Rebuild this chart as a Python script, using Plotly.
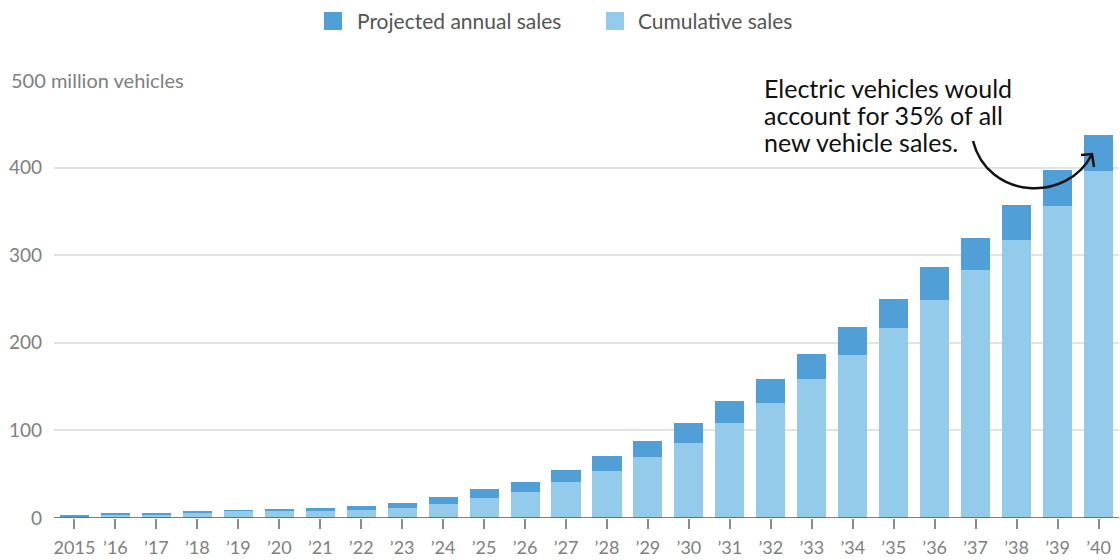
import plotly.graph_objects as go

# ---- data (million vehicles) ----
years = list(range(2015, 2041))
tick_labels = ["2015", "’16", "’17", "’18", "’19", "’20", "’21", "’22", "’23", "’24",
               "’25", "’26", "’27", "’28", "’29", "’30", "’31", "’32", "’33", "’34",
               "’35", "’36", "’37", "’38", "’39", "’40"]
cumulative_sales = [2.0, 3.8, 4.4, 6.0, 8.0, 7.6, 8.0, 9.5, 11.1, 16.3,
                    22.5, 29.3, 41.5, 54.0, 69.7, 86.0, 108.6, 131.5, 158.5, 186.0,
                    217.0, 249.0, 283.5, 317.0, 356.6, 396.0]
annual_sales = [0.9, 1.1, 0.9, 0.9, 1.1, 2.7, 3.0, 4.6, 6.2, 8.2,
                10.3, 12.2, 13.0, 16.5, 18.6, 23.0, 25.4, 27.5, 28.5, 32.3,
                33.0, 37.0, 36.5, 40.7, 40.4, 41.7]
y_ticks = [0, 100, 200, 300, 400]
series_names = ["Projected annual sales", "Cumulative sales"]

# ---- layout geometry ----
W, H = 1120, 560
ML, MR, MT, MB = 54, 1, 80, 42
X0, X1 = 2014.5, 2040.5
Y0, Y1 = 0, 500
PW, PH = W - ML - MR, H - MT - MB

def dx(px):
    return X0 + (px - ML) / PW * (X1 - X0)

def dy(py):
    return Y0 + (H - MB - py) / PH * (Y1 - Y0)

def px_paper(px):
    return (px - ML) / PW

def py_paper(py):
    return (H - MB - py) / PH

DARK = "#519fd7"
LIGHT = "#95cbea"
FONT = "Lato, 'Source Sans Pro', 'Noto Sans', sans-serif"

fig = go.Figure()
fig.add_trace(go.Bar(x=years, y=cumulative_sales, name=series_names[1],
                     marker=dict(color=LIGHT, line=dict(width=0))))
fig.add_trace(go.Bar(x=years, y=annual_sales, name=series_names[0],
                     marker=dict(color=DARK, line=dict(width=0))))

fig.update_layout(
    width=W, height=H,
    margin=dict(l=ML, r=MR, t=MT, b=MB, autoexpand=False),
    barmode="stack", bargap=0.29,
    plot_bgcolor="white", paper_bgcolor="white",
    font=dict(family=FONT, color="#808080"),
    showlegend=False,
    xaxis=dict(range=[X0, X1], tickvals=years, ticktext=tick_labels,
               showgrid=False, zeroline=False, showline=False,
               ticks="outside", ticklen=10, tickwidth=2, tickcolor="#8a8a8a",
               ticklabelstandoff=3,
               tickfont=dict(size=18, color="#808080")),
    yaxis=dict(range=[Y0, Y1], tickvals=y_ticks,
               showgrid=True, gridcolor="#e3e3e3", gridwidth=1.5,
               zeroline=False, showline=False, ticks="",
               ticklabelstandoff=11,
               tickfont=dict(size=19, color="#808080")),
)

# custom legend (swatches + labels)
legend_items = [(DARK, 324, 355), (LIGHT, 606, 636)]
for (color, sx, tx), name in zip(legend_items, series_names):
    fig.add_shape(type="rect", xref="paper", yref="paper",
                  x0=px_paper(sx), x1=px_paper(sx + 18), y0=py_paper(12), y1=py_paper(30),
                  fillcolor=color, line=dict(width=0))
    fig.add_annotation(text=name, xref="paper", yref="paper", x=px_paper(tx), y=py_paper(21),
                       xanchor="left", yanchor="middle", showarrow=False,
                       font=dict(size=21, color="#555555"))

# baseline
fig.add_shape(type="line", xref="paper", yref="y", x0=0, x1=1, y0=0, y1=0,
              line=dict(color="#555555", width=1.5), layer="above")

# axis unit label
fig.add_annotation(text="500 million vehicles", xref="paper", yref="y",
                   x=px_paper(9), y=500, xanchor="left", yanchor="middle",
                   showarrow=False, font=dict(size=20, color="#808080"))

# callout text
callout = ["Electric vehicles would", "account for 35% of all", "new vehicle sales."]
for i, line in enumerate(callout):
    fig.add_annotation(text=line, xref="x", yref="y", x=dx(763), y=dy(87.5 + 27 * i),
                       xanchor="left", yanchor="middle", showarrow=False,
                       height=26, valign="middle", borderpad=0,
                       font=dict(size=25, color="#111111"))

# curved arrow
p0 = (973, 141); c1 = (988, 200); c2 = (1068, 203); p3 = (1092, 154)
path = "M {} {} C {} {}, {} {}, {} {}".format(dx(p0[0]), dy(p0[1]), dx(c1[0]), dy(c1[1]),
                                              dx(c2[0]), dy(c2[1]), dx(p3[0]), dy(p3[1]))
fig.add_shape(type="path", xref="x", yref="y", path=path,
              line=dict(color="#111111", width=2.5), layer="above")
head = "M {} {} L {} {} L {} {}".format(dx(1081), dy(155), dx(p3[0]), dy(p3[1]),
                                       dx(1094), dy(167))
fig.add_shape(type="path", xref="x", yref="y", path=head,
              line=dict(color="#111111", width=2.5), layer="above")

fig.write_html("out.html", config={"displayModeBar": False},
               post_script="document.body.style.margin='0';document.body.style.overflow='hidden';")
